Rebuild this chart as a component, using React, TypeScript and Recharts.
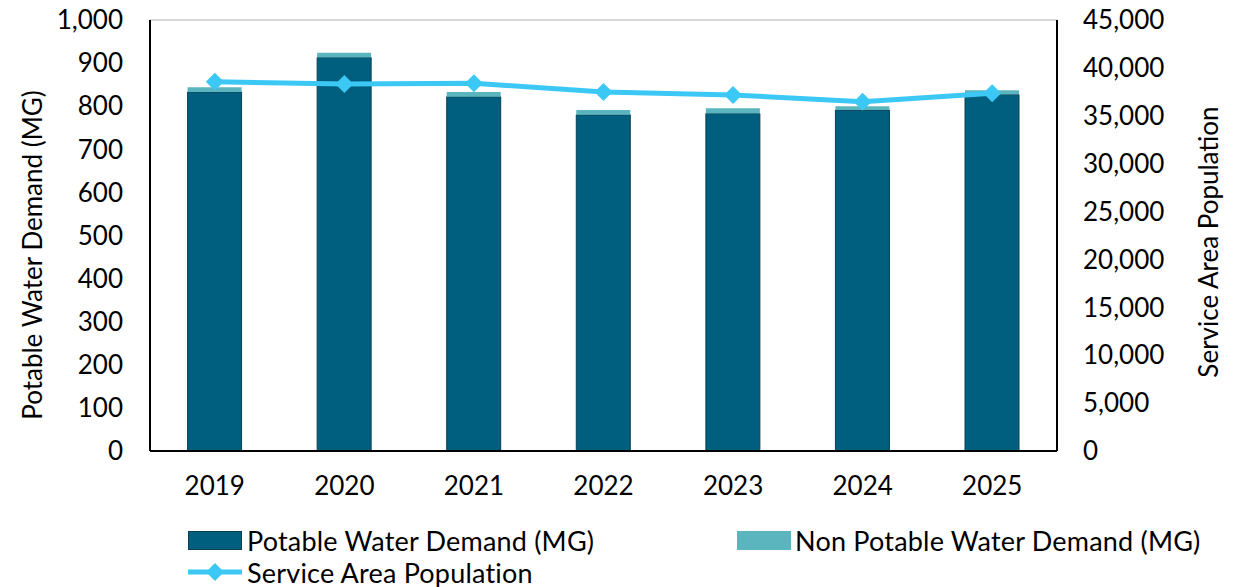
import { ComposedChart, Bar, Line, XAxis, YAxis, CartesianGrid } from "recharts";

const years = ["2019", "2020", "2021", "2022", "2023", "2024", "2025"];
const potable = [833, 913, 822, 780, 783, 791, 827];
const nonPotable = [11, 11, 11, 11, 12, 9, 10];
const population = [38550, 38320, 38390, 37480, 37170, 36470, 37350];

const demandTicks = [0, 100, 200, 300, 400, 500, 600, 700, 800, 900, 1000];
const popTicks = [0, 5000, 10000, 15000, 20000, 25000, 30000, 35000, 40000, 45000];

const data = years.map((y, i) => ({
  year: y,
  potable: potable[i],
  nonPotable: nonPotable[i],
  population: population[i],
}));

const FONT = "Lato, 'Open Sans', sans-serif";
const DARK = "#005f7e";
const LIGHT = "#5bb5be";
const LINE = "#3cc8f5";
const fmt = (v: number) => v.toLocaleString("en-US");

function Diamond(props: any) {
  const { cx, cy } = props;
  if (cx == null || cy == null) return null;
  const r = 9;
  return (
    <path
      d={`M${cx},${cy - r} L${cx + r},${cy} L${cx},${cy + r} L${cx - r},${cy} Z`}
      fill={LINE}
    />
  );
}

function SideLabel({ x, y, text }: { x: number; y: number; text: string }) {
  return (
    <text
      x={x}
      y={y}
      transform={`rotate(-90 ${x} ${y})`}
      textAnchor="middle"
      dominantBaseline="central"
      fontFamily={FONT}
      fontSize={26}
      fill="#000"
    >
      {text}
    </text>
  );
}

function LegendBox() {
  const txt = { fontFamily: FONT, fontSize: 27, color: "#000", lineHeight: "1", letterSpacing: 0.2 };
  return (
    <div style={{ position: "absolute", left: 0, top: 0, width: 1243, height: 587, pointerEvents: "none" }}>
      <div style={{ position: "absolute", left: 188, top: 526, height: 28, display: "flex", alignItems: "center" }}>
        <div style={{ width: 52, height: 17, background: DARK, border: "1px solid #0d3f52" }} />
        <span style={{ ...txt, marginLeft: 5 }}>Potable Water Demand (MG)</span>
      </div>
      <div style={{ position: "absolute", left: 737, top: 526, height: 28, display: "flex", alignItems: "center" }}>
        <div style={{ width: 54, height: 19, background: LIGHT }} />
        <span style={{ ...txt, marginLeft: 4 }}>Non Potable Water Demand (MG)</span>
      </div>
      <div style={{ position: "absolute", left: 188, top: 558, height: 28, display: "flex", alignItems: "center" }}>
        <svg width={54} height={20}>
          <line x1={0} y1={10} x2={54} y2={10} stroke={LINE} strokeWidth={5} />
          <path d="M27,1 L36,10 L27,19 L18,10 Z" fill={LINE} />
        </svg>
        <span style={{ ...txt, marginLeft: 5 }}>Service Area Population</span>
      </div>
    </div>
  );
}

export default function App() {
  return (
    <div style={{ position: "absolute", left: 0, top: 0, width: 1243, height: 587, background: "#fff" }}>
      <ComposedChart
        width={1243}
        height={587}
        data={data}
        margin={{ top: 20, right: 0, left: 0, bottom: 0 }}
        barCategoryGap="29%"
      >
        <CartesianGrid vertical={false} stroke="#d9d9d9" strokeWidth={2} />
        <XAxis
          dataKey="year"
          height={136}
          tickSize={0}
          tickMargin={26}
          axisLine={{ stroke: "#000", strokeWidth: 2 }}
          tick={{ fontFamily: FONT, fontSize: 26, fill: "#000" }}
        />
        <YAxis
          yAxisId="left"
          width={150}
          domain={[0, 1000]}
          ticks={demandTicks}
          interval={0}
          tickFormatter={fmt}
          tickSize={0}
          tickMargin={27}
          axisLine={{ stroke: "#000", strokeWidth: 2 }}
          tick={{ fontFamily: FONT, fontSize: 26, fill: "#000" }}
          label={{ content: () => <SideLabel x={32} y={255} text="Potable Water Demand (MG)" /> }}
        />
        <YAxis
          yAxisId="right"
          orientation="right"
          width={186}
          domain={[0, 45000]}
          ticks={popTicks}
          interval={0}
          tickFormatter={fmt}
          tickSize={0}
          tickMargin={26}
          axisLine={{ stroke: "#000", strokeWidth: 2 }}
          tick={{ fontFamily: FONT, fontSize: 26, fill: "#000" }}
          label={{ content: () => <SideLabel x={1208} y={242} text="Service Area Population" /> }}
        />
        <Bar
          yAxisId="left"
          dataKey="potable"
          stackId="d"
          fill={DARK}
          stroke="#0d3f52"
          strokeWidth={1}
          isAnimationActive={false}
        />
        <Bar
          yAxisId="left"
          dataKey="nonPotable"
          stackId="d"
          fill={LIGHT}
          isAnimationActive={false}
        />
        <Line
          yAxisId="right"
          dataKey="population"
          stroke={LINE}
          strokeWidth={5}
          dot={<Diamond />}
          activeDot={false}
          isAnimationActive={false}
        />
      </ComposedChart>
      <LegendBox />
    </div>
  );
}
